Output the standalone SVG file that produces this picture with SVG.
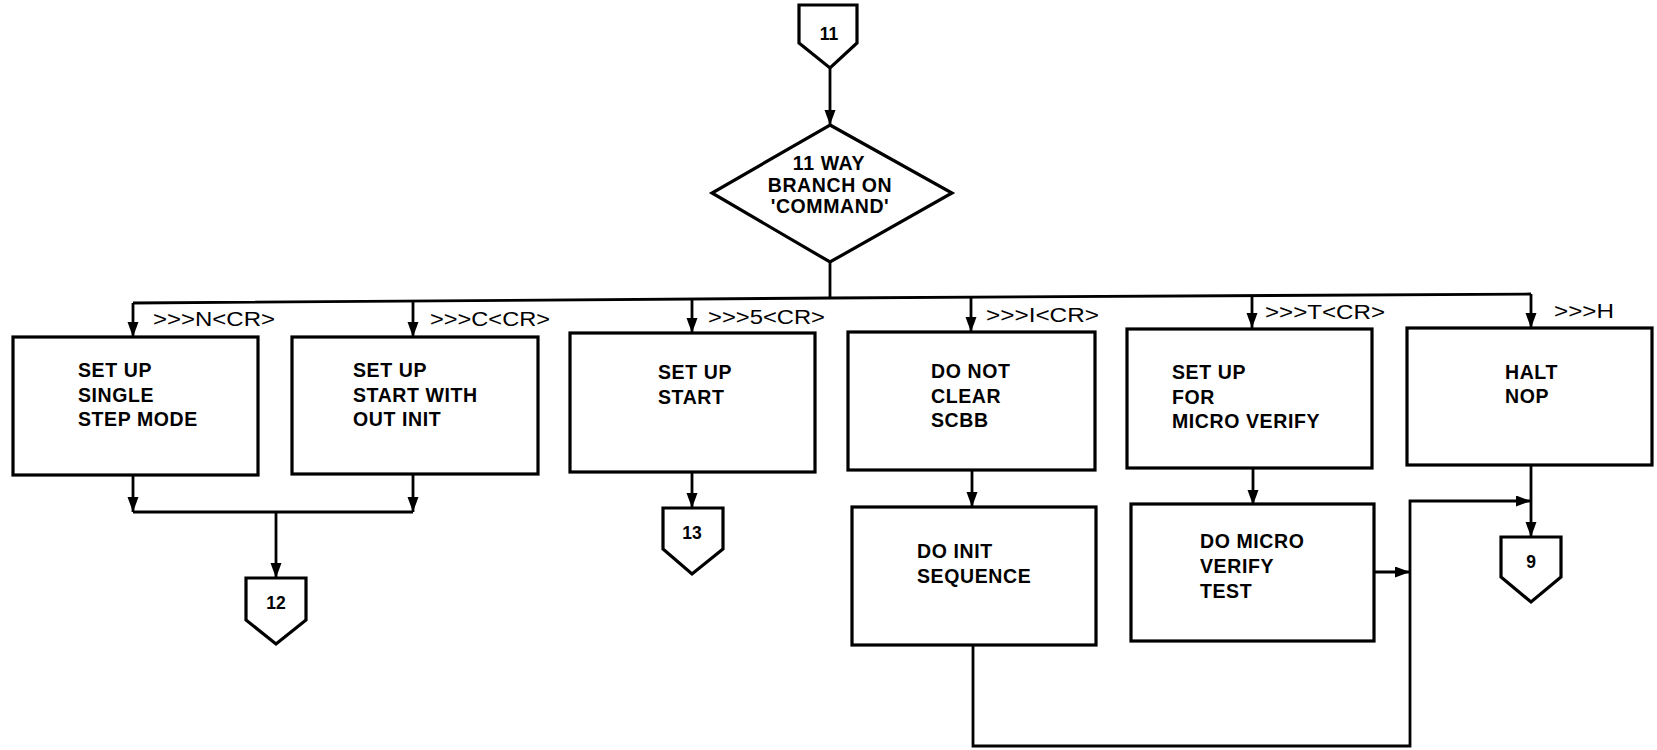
<svg xmlns="http://www.w3.org/2000/svg" width="1657" height="750" viewBox="0 0 1657 750">
  <defs>
    <marker id="arrow" markerUnits="userSpaceOnUse" markerWidth="17" markerHeight="12" refX="15" refY="5.5" orient="auto">
      <path d="M0,0 L15,5.5 L0,11 z" fill="#000"/>
    </marker>
    <style>
      .box { fill: #fff; stroke: #000; stroke-width: 3.2; }
      .wire { fill: none; stroke: #000; stroke-width: 2.8; }
      .arr { fill: none; stroke: #000; stroke-width: 2.8; marker-end: url(#arrow); }
      .txt { font-family: "Liberation Sans", Arial, sans-serif; font-size: 19.5px; font-weight: bold; letter-spacing: 0.6px; fill: #000; }
      .mid { text-anchor: middle; }
      .num { font-family: "Liberation Sans", Arial, sans-serif; font-size: 17.5px; font-weight: bold; fill: #000; text-anchor: middle; }
      .cmd { font-family: "Liberation Sans", Arial, sans-serif; font-size: 20.5px; fill: #000; }
    </style>
  </defs>
  <rect width="1657" height="750" fill="#fff"/>

  <!-- connectors -->
  <g id="connectors">
    <line class="arr" x1="830" y1="68" x2="830" y2="125"/>
    <line class="wire" x1="830" y1="262" x2="830" y2="298"/>
    <path class="wire" d="M133,303 L831,298 L1531,294"/>
    <line class="arr" x1="133" y1="303" x2="133" y2="337"/>
    <line class="arr" x1="413" y1="301" x2="413" y2="337"/>
    <line class="arr" x1="692" y1="299" x2="692" y2="333"/>
    <line class="arr" x1="971" y1="297" x2="971" y2="332"/>
    <line class="arr" x1="1252" y1="295" x2="1252" y2="328"/>
    <line class="arr" x1="1531" y1="294" x2="1531" y2="328"/>
    <!-- join of the first two branches -->
    <line class="arr" x1="133" y1="475" x2="133" y2="512"/>
    <line class="arr" x1="413" y1="474" x2="413" y2="512"/>
    <line class="wire" x1="133" y1="512" x2="413" y2="512"/>
    <line class="arr" x1="276" y1="512" x2="276" y2="578"/>
    <line class="arr" x1="692" y1="472" x2="692" y2="508"/>
    <line class="arr" x1="972" y1="470" x2="972" y2="507"/>
    <line class="arr" x1="1253" y1="468" x2="1253" y2="505"/>
    <line class="arr" x1="1531" y1="465" x2="1531" y2="537"/>
    <line class="arr" x1="1374" y1="572" x2="1410" y2="572"/>
    <path class="arr" d="M973,645 L973,746 L1410,746 L1410,501 L1531,501"/>
  </g>

  <g id="start-11">
    <polygon class="box" points="799,5 857,5 857,43 830,68 799,43"/>
    <text class="num" x="829" y="40">11</text>
  </g>

  <g id="branch">
    <polygon class="box" points="830,125 952,193 830,262 712,193"/>
    <text class="txt mid" x="829" y="170">11 WAY</text>
    <text class="txt mid" x="830" y="192">BRANCH ON</text>
    <text class="txt mid" x="830" y="213">'COMMAND'</text>
  </g>

  <g id="label-n"><text class="cmd" x="153" y="326" textLength="122" lengthAdjust="spacingAndGlyphs">&gt;&gt;&gt;N&lt;CR&gt;</text></g>
  <g id="label-c"><text class="cmd" x="430" y="326" textLength="120" lengthAdjust="spacingAndGlyphs">&gt;&gt;&gt;C&lt;CR&gt;</text></g>
  <g id="label-s"><text class="cmd" x="708" y="324" textLength="117" lengthAdjust="spacingAndGlyphs">&gt;&gt;&gt;5&lt;CR&gt;</text></g>
  <g id="label-i"><text class="cmd" x="986" y="322" textLength="113" lengthAdjust="spacingAndGlyphs">&gt;&gt;&gt;I&lt;CR&gt;</text></g>
  <g id="label-t"><text class="cmd" x="1265" y="319" textLength="120" lengthAdjust="spacingAndGlyphs">&gt;&gt;&gt;T&lt;CR&gt;</text></g>
  <g id="label-h"><text class="cmd" x="1554" y="318" textLength="60" lengthAdjust="spacingAndGlyphs">&gt;&gt;&gt;H</text></g>

  <g id="single-step">
    <rect class="box" x="13" y="337" width="245" height="138"/>
    <text class="txt" x="78" y="377">SET UP</text>
    <text class="txt" x="78" y="402">SINGLE</text>
    <text class="txt" x="78" y="426">STEP MODE</text>
  </g>

  <g id="start-no-init">
    <rect class="box" x="292" y="337" width="246" height="137"/>
    <text class="txt" x="353" y="377">SET UP</text>
    <text class="txt" x="353" y="402">START WITH</text>
    <text class="txt" x="353" y="426">OUT INIT</text>
  </g>

  <g id="start">
    <rect class="box" x="570" y="333" width="245" height="139"/>
    <text class="txt" x="658" y="379">SET UP</text>
    <text class="txt" x="658" y="404">START</text>
  </g>

  <g id="no-clear">
    <rect class="box" x="848" y="332" width="247" height="138"/>
    <text class="txt" x="931" y="378">DO NOT</text>
    <text class="txt" x="931" y="403">CLEAR</text>
    <text class="txt" x="931" y="427">SCBB</text>
  </g>

  <g id="micro-setup">
    <rect class="box" x="1127" y="329" width="245" height="139"/>
    <text class="txt" x="1172" y="379">SET UP</text>
    <text class="txt" x="1172" y="404">FOR</text>
    <text class="txt" x="1172" y="428">MICRO VERIFY</text>
  </g>

  <g id="halt">
    <rect class="box" x="1407" y="328" width="245" height="137"/>
    <text class="txt" x="1505" y="379">HALT</text>
    <text class="txt" x="1505" y="403">NOP</text>
  </g>

  <g id="init-seq">
    <rect class="box" x="852" y="507" width="244" height="138"/>
    <text class="txt" x="917" y="558">DO INIT</text>
    <text class="txt" x="917" y="583">SEQUENCE</text>
  </g>

  <g id="micro-test">
    <rect class="box" x="1131" y="504" width="243" height="137"/>
    <text class="txt" x="1200" y="548">DO MICRO</text>
    <text class="txt" x="1200" y="573">VERIFY</text>
    <text class="txt" x="1200" y="598">TEST</text>
  </g>

  <g id="off-12">
    <polygon class="box" points="246,578 306,578 306,620 276,644 246,620"/>
    <text class="num" x="276" y="609">12</text>
  </g>

  <g id="off-13">
    <polygon class="box" points="663,508 723,508 723,549 692,574 663,549"/>
    <text class="num" x="692" y="539">13</text>
  </g>

  <g id="off-9">
    <polygon class="box" points="1501,537 1561,537 1561,577 1531,602 1501,577"/>
    <text class="num" x="1531" y="568">9</text>
  </g>
</svg>
